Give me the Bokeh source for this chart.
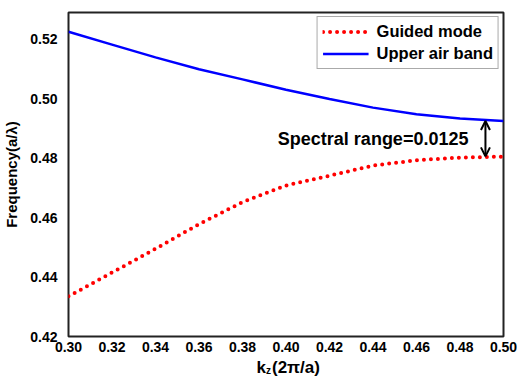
from bokeh.plotting import figure
from bokeh.layouts import column
from bokeh.models import FixedTicker, NumeralTickFormatter, Range1d, Label, Arrow, OpenHead
from bokeh.embed import file_html
from bokeh.resources import INLINE

kz = [0.30, 0.32, 0.34, 0.36, 0.38, 0.40, 0.42, 0.44, 0.46, 0.48, 0.50]
upper_air_band = [0.5225, 0.5182, 0.5139, 0.5099, 0.5065, 0.5030, 0.4999, 0.4970, 0.4948, 0.4933, 0.4925]
guided_mode = [0.4335, 0.4415, 0.4495, 0.4578, 0.4652, 0.4708, 0.4741, 0.4775, 0.4793, 0.4802, 0.4805]
x_ticks = [0.30, 0.32, 0.34, 0.36, 0.38, 0.40, 0.42, 0.44, 0.46, 0.48, 0.50]
y_ticks = [0.42, 0.44, 0.46, 0.48, 0.50, 0.52]
gap_x = 0.4917
gap_top = 0.4925
gap_bottom = 0.4806
gap_text = "Spectral range=0.0125"

FONT = "Liberation Sans"

p = figure(width=517, height=356, output_backend="svg", toolbar_location=None,
           x_range=Range1d(0.30, 0.50), y_range=Range1d(0.42, 0.529),
           min_border_left=67, min_border_right=14, min_border_top=12, min_border_bottom=20)
p.background_fill_color = "white"
p.border_fill_color = "white"
p.grid.visible = False
p.outline_line_color = "#222222"
p.outline_line_width = 2

for ax in (p.xaxis[0], p.yaxis[0]):
    ax.axis_line_color = None
    ax.major_tick_line_color = None
    ax.minor_tick_line_color = None
    ax.major_tick_in = 0
    ax.major_tick_out = 0
    ax.minor_tick_in = 0
    ax.minor_tick_out = 0
    ax.major_label_text_font = FONT
    ax.major_label_text_font_style = "bold"
    ax.major_label_text_font_size = "14px"
    ax.major_label_text_color = "black"
    ax.formatter = NumeralTickFormatter(format="0.00")

p.xaxis.ticker = FixedTicker(ticks=x_ticks)
p.yaxis.ticker = FixedTicker(ticks=y_ticks)
p.xaxis.major_label_standoff = 5
p.yaxis.major_label_standoff = 11

p.yaxis.axis_label = "Frequency(a/λ)"
p.yaxis.axis_label_text_font = FONT
p.yaxis.axis_label_text_font_style = "bold"
p.yaxis.axis_label_text_font_size = "15px"
p.yaxis.axis_label_text_color = "black"
p.yaxis.axis_label_standoff = 7

p.line(kz, guided_mode, line_color="#ff0000", line_width=4, line_dash="0 7",
       line_cap="round", legend_label="Guided mode")
p.line(kz, upper_air_band, line_color="#0000ff", line_width=2.5,
       legend_label="Upper air band")

p.add_layout(Arrow(x_start=gap_x, y_start=gap_bottom, x_end=gap_x, y_end=gap_top,
                   line_width=2, line_color="black",
                   start=OpenHead(size=9, line_width=2, line_color="black"),
                   end=OpenHead(size=9, line_width=2, line_color="black")))
p.add_layout(Label(x=gap_x, y=(gap_top + gap_bottom) / 2, x_offset=-17, text=gap_text,
                   text_align="right", text_baseline="middle", text_font=FONT,
                   text_font_style="bold", text_font_size="18px", text_color="black"))

lg = p.legend[0]
lg.location = "top_right"
lg.margin = 4
lg.padding = 5
lg.spacing = 3
lg.label_height = 17
lg.glyph_height = 17
lg.glyph_width = 46
lg.label_standoff = 8
lg.label_text_font = FONT
lg.label_text_font_style = "bold"
lg.label_text_font_size = "16.5px"
lg.label_text_color = "black"
lg.border_line_color = "#555555"
lg.border_line_width = 1
lg.background_fill_alpha = 1

# strip below the chart holding the x-axis title k_z(2π/a); shares the chart's x scale
q = figure(width=517, height=22, output_backend="svg", toolbar_location=None,
           title=None, x_axis_location=None, y_axis_location=None,
           x_range=p.x_range, y_range=Range1d(0, 22),
           min_border=0, min_border_left=67, min_border_right=14,
           min_border_top=0, min_border_bottom=0)
q.grid.visible = False
q.outline_line_color = None
q.background_fill_color = "white"
q.border_fill_color = "white"
k_x = 0.3908
q.add_layout(Label(x=k_x, y=11, text="k", text_align="right", text_baseline="alphabetic",
                   text_font=FONT, text_font_style="bold", text_font_size="17px",
                   text_color="black"))
q.add_layout(Label(x=k_x, y=8, text="z", text_align="left", text_baseline="alphabetic",
                   text_font=FONT, text_font_style="bold", text_font_size="10px",
                   text_color="black"))
q.add_layout(Label(x=k_x, y=11, x_offset=6, text="(2π/a)", text_align="left",
                   text_baseline="alphabetic", text_font=FONT, text_font_style="bold",
                   text_font_size="17px", text_color="black"))

layout = column(p, q, spacing=0)
open("out.html", "w").write(file_html(layout, INLINE))
